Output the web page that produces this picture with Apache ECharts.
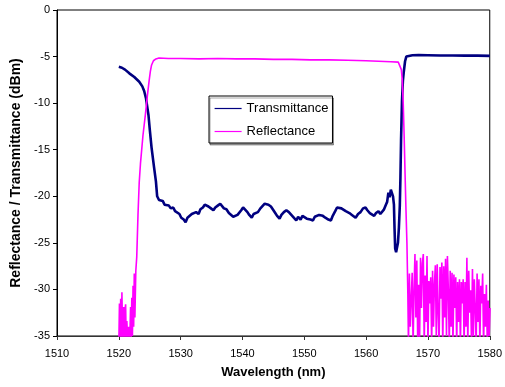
<!DOCTYPE html>
<html>
<head>
<meta charset="utf-8">
<script src="https://cdn.jsdelivr.net/npm/echarts@6/dist/echarts.min.js"></script>
<style>
  html, body { margin: 0; padding: 0; background: #fff; }
  #chart { width: 505px; height: 387px; }
</style>
</head>
<body>
<div id="chart"></div>
<script>
// tick labels
const xTicks = [1510, 1520, 1530, 1540, 1550, 1560, 1570, 1580];
const yTicks = [0, -5, -10, -15, -20, -25, -30, -35];

// Transmittance (nm, dBm)
const transX = [
  1520.0, 1520.5, 1521.0, 1521.7, 1522.5, 1523.3, 1523.8, 1524.1, 1524.4, 1524.6,
  1524.8, 1525.0, 1525.3, 1525.7, 1526.0, 1526.2, 1526.5, 1526.8, 1527.1, 1527.4,
  1527.7, 1528.1, 1528.4, 1528.8, 1529.1, 1529.4, 1529.8, 1530.1, 1530.5, 1530.8,
  1531.1, 1531.4, 1531.8, 1532.1, 1532.5, 1532.9, 1533.2, 1533.6, 1533.9, 1534.2,
  1534.5, 1534.9, 1535.3, 1535.6, 1536.0, 1536.4, 1536.7, 1537.0, 1537.4, 1537.8,
  1538.1, 1538.5, 1538.8, 1539.2, 1539.5, 1539.8, 1540.1, 1540.4, 1540.8, 1541.1,
  1541.5, 1541.8, 1542.1, 1542.5, 1542.9, 1543.2, 1543.6, 1543.9, 1544.2, 1544.6,
  1544.9, 1545.3, 1545.6, 1546.0, 1546.3, 1546.7, 1547.1, 1547.5, 1547.9, 1548.3,
  1548.7, 1549.0, 1549.4, 1549.7, 1550.0, 1550.4, 1550.7, 1551.0, 1551.4, 1551.7,
  1552.0, 1552.4, 1552.7, 1553.0, 1553.4, 1553.9, 1554.3, 1554.6, 1555.0, 1555.3,
  1555.6, 1556.0, 1556.3, 1556.7, 1557.0, 1557.3, 1557.7, 1558.0, 1558.3, 1558.7,
  1559.1, 1559.5, 1559.9, 1560.2, 1560.6, 1560.9, 1561.3, 1561.6, 1562.0, 1562.3,
  1562.6, 1562.9, 1563.2, 1563.4, 1563.6, 1563.8, 1564.0, 1564.2, 1564.35, 1564.5,
  1564.6, 1564.7, 1564.85, 1565.0, 1565.15, 1565.3, 1565.45, 1565.55, 1565.65, 1565.8,
  1565.95, 1566.1, 1566.3, 1566.5, 1566.8, 1567.5, 1568.5, 1570, 1572, 1574,
  1576, 1578, 1580
];
const transY = [
  -6.1, -6.2, -6.4, -6.8, -7.2, -7.7, -8.2, -8.7, -9.5, -10.4,
  -11.3, -12.8, -14.8, -16.9, -18.4, -20.0, -20.4, -20.6, -20.5, -20.9,
  -20.7, -21.0, -21.3, -21.2, -21.6, -21.8, -21.9, -22.3, -22.5, -22.8,
  -22.3, -22.4, -21.9, -22.0, -21.7, -21.9, -21.4, -21.2, -20.9, -20.8,
  -21.1, -21.3, -21.5, -21.2, -21.0, -20.8, -21.0, -21.3, -21.4, -21.8,
  -22.0, -22.2, -22.4, -22.0, -21.8, -21.5, -21.2, -21.4, -21.7, -22.0,
  -22.3, -21.9, -22.0, -21.7, -21.3, -21.1, -20.8, -20.6, -20.9, -21.1,
  -21.4, -21.8, -22.1, -22.4, -22.0, -21.7, -21.5, -21.7, -22.0, -22.3,
  -22.6, -22.2, -22.5, -22.1, -22.3, -22.4, -22.2, -22.5, -22.6, -22.2,
  -22.4, -22.0, -21.9, -22.1, -22.3, -22.5, -22.6, -22.1, -21.6, -21.2,
  -21.0, -21.3, -21.2, -21.6, -21.5, -21.8, -22.0, -22.1, -22.3, -21.9,
  -21.7, -21.3, -21.2, -21.5, -21.8, -21.9, -22.1, -21.8, -21.6, -21.9,
  -21.7, -21.4, -20.9, -20.6, -19.6, -20.1, -19.3, -19.2, -20.0, -20.9,
  -23.5, -25.6, -26.0, -25.9, -25.0, -23.4, -21.0, -18.0, -14.0, -9.8,
  -7.6, -6.6, -5.5, -5.0, -4.88, -4.86, -4.85, -4.86, -4.88, -4.88,
  -4.9, -4.9, -4.92
];

// Reflectance (nm, dBm), edges and plateau
const reflX = [
  1520.0, 1520.1, 1520.2, 1520.3, 1520.4, 1520.5, 1520.6, 1520.7, 1520.8, 1520.9,
  1521.0, 1521.1, 1521.2, 1521.3, 1521.45, 1521.6, 1521.75, 1521.9, 1522.0, 1522.1,
  1522.2, 1522.3, 1522.4, 1522.5, 1522.6, 1522.75, 1522.9, 1523.1, 1523.3, 1523.5,
  1523.9, 1524.3, 1524.6, 1524.9, 1525.1, 1525.3, 1525.6, 1526.0, 1526.5, 1528,
  1530, 1533, 1536, 1539, 1542, 1545, 1548, 1551, 1554, 1557,
  1560, 1562, 1564, 1565.2, 1565.5, 1565.7, 1565.85, 1566.0, 1566.15, 1566.3,
  1566.45, 1566.6, 1566.75
];
const reflY = [
  -36, -31.5, -36, -31.0, -36, -30.3, -34.5, -36, -31.9, -36,
  -32.2, -31.6, -36, -33.4, -36, -34.0, -36, -31.9, -35.5, -30.9,
  -35.0, -29.6, -34.0, -28.3, -33.0, -28.0, -26.5, -22.0, -18.5, -16.5,
  -13.5, -11.2, -9.3, -7.6, -6.6, -5.9, -5.45, -5.25, -5.15, -5.2,
  -5.2, -5.25, -5.2, -5.25, -5.25, -5.3, -5.3, -5.35, -5.35, -5.4,
  -5.45, -5.5, -5.55, -5.6, -5.8, -6.4, -7.5, -10.0, -13.5, -17.6,
  -21.5, -25.0, -30.5
];

// Reflectance noise floor after the stop band, sampled every 0.15 nm
const reflNoiseStart = 1566.85;
const reflNoiseStep = 0.15;
const reflNoiseY = [
  -36, -28.3, -34, -31, -28.2, -36, -30, -26.2, -33, -26.9,
  -36, -29.5, -35.5, -26.6, -32, -27.2, -26.2, -36, -28.5, -33.5,
  -26.4, -36, -29.1, -31.5, -28.7, -36, -28.0, -34, -29.4, -27.4,
  -35, -27.3, -32.5, -36, -27.6, -31, -27.1, -36, -27.5, -33,
  -26.7, -35, -26.4, -30, -36, -28.0, -34, -28.2, -36, -28.4,
  -32, -28.7, -36, -29.2, -33.5, -28.9, -36, -29.2, -31.5, -28.9,
  -36, -29.2, -34, -26.6, -36, -28.0, -32.5, -30.1, -36, -27.8,
  -35, -28.9, -32, -36, -28.3, -33.5, -28.9, -36, -29.6, -31.5,
  -28.3, -36, -30.5, -34, -29.5, -36, -31.2, -35, -32
];

const transData = transX.map((x, i) => [x, transY[i]]);
const reflData = reflX.map((x, i) => [x, reflY[i]])
  .concat(reflNoiseY.map((y, i) => [+(reflNoiseStart + i * reflNoiseStep).toFixed(2), y]));

const chart = echarts.init(document.getElementById('chart'));
const font = 'Liberation Sans, Arial, sans-serif';

chart.setOption({
  animation: false,
  backgroundColor: '#fff',
  textStyle: { fontFamily: font },
  grid: {
    left: 57, right: 12, top: 10, bottom: 51,
    show: true, borderColor: '#000', borderWidth: 1
  },
  legend: {
    orient: 'vertical',
    left: 209, top: 96,
    padding: [6, 4, 5, 5],
    itemWidth: 27, itemHeight: 14, itemGap: 10,
    itemStyle: { opacity: 0 },
    lineStyle: { width: 1.2 },
    backgroundColor: '#fff',
    borderColor: '#000', borderWidth: 1,
    shadowColor: 'rgba(0,0,0,0.35)', shadowOffsetX: 1, shadowOffsetY: 2, shadowBlur: 0,
    textStyle: { fontFamily: font, fontSize: 13, color: '#000' },
    data: ['Transmittance', 'Reflectance']
  },
  xAxis: {
    type: 'value',
    min: xTicks[0], max: xTicks[xTicks.length - 1], interval: 10,
    name: 'Wavelength (nm)', nameLocation: 'middle', nameGap: 30,
    nameTextStyle: { fontFamily: font, fontSize: 13, fontWeight: 'bold', color: '#000' },
    axisLine: { onZero: false, lineStyle: { color: '#333', width: 1 } },
    axisTick: { show: true, length: 4, lineStyle: { color: '#333' } },
    axisLabel: { fontFamily: font, fontSize: 11, color: '#000', margin: 12, formatter: v => String(v) },
    splitLine: { show: false }
  },
  yAxis: {
    type: 'value',
    min: yTicks[yTicks.length - 1], max: yTicks[0], interval: 5,
    name: 'Reflectance / Transmittance (dBm)', nameLocation: 'middle', nameGap: 33,
    nameTextStyle: { fontFamily: font, fontSize: 14, fontWeight: 'bold', color: '#000' },
    axisLine: { onZero: false, lineStyle: { color: '#000', width: 1 } },
    axisTick: { show: true, length: 4, lineStyle: { color: '#000' } },
    axisLabel: { fontFamily: font, fontSize: 11, color: '#000', margin: 7 },
    splitLine: { show: false }
  },
  series: [
    {
      name: 'Transmittance',
      type: 'line',
      data: transData,
      symbol: 'none',
      lineStyle: { color: '#000080', width: 2.6 },
      itemStyle: { color: '#000080' },
      z: 2
    },
    {
      name: 'Reflectance',
      type: 'line',
      data: reflData,
      symbol: 'none',
      lineStyle: { color: '#FF00FF', width: 1.6 },
      itemStyle: { color: '#FF00FF' },
      z: 3
    }
  ]
});
</script>
</body>
</html>
